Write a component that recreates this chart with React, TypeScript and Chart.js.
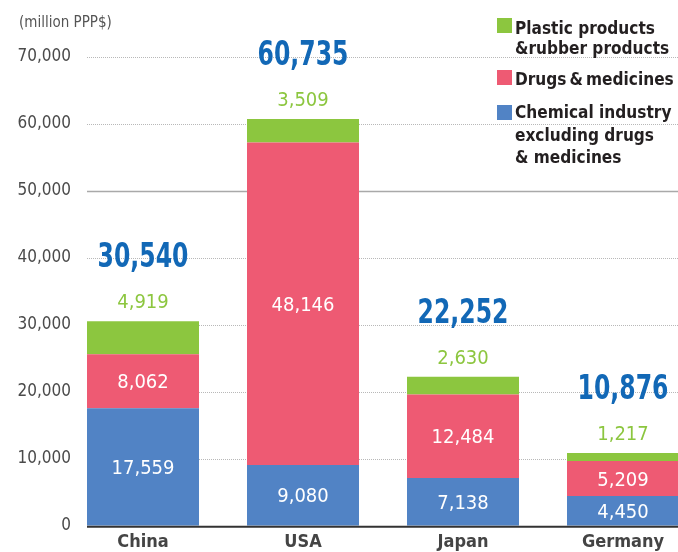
import React, { useEffect, useRef } from "react";
import { Chart, registerables } from "chart.js";

Chart.register(...registerables);

const categories = ["China", "USA", "Japan", "Germany"];
const chemical = [17559, 9080, 7138, 4450];
const drugs = [8062, 48146, 12484, 5209];
const plastic = [4919, 3509, 2630, 1217];
const yTickValues = [0, 10000, 20000, 30000, 40000, 50000, 60000, 70000];
const unitLabel = "(million PPP$)";
const seriesNames = [
  ["Plastic products", "&rubber products"],
  ["Drugs\u2009&\u2009medicines"],
  ["Chemical industry", "excluding drugs", "& medicines"],
];

const BLUE = "#5183c5";
const PINK = "#ee5a73";
const GREEN = "#8cc63f";
const TOTAL_BLUE = "#1268b6";
const FONT = "'DejaVu Sans Condensed', 'DejaVu Sans', sans-serif";

const fmt = (v: number) => v.toLocaleString("en-US");
const toPoints = (arr: number[]) => arr.map((v, i) => ({ x: i, y: v }));

const decor = {
  id: "decor",
  beforeDatasetsDraw(chart: any) {
    const { ctx, scales } = chart;
    const y = scales.y;
    const left = chart.chartArea.left;
    ctx.save();
    yTickValues.forEach((v) => {
      if (v === 0) return;
      const py = Math.round(y.getPixelForValue(v)) + 0.5;
      ctx.beginPath();
      if (v === 50000) {
        ctx.setLineDash([]);
        ctx.strokeStyle = "#a9a9a9";
        ctx.lineWidth = 1.5;
      } else {
        ctx.setLineDash([1, 1]);
        ctx.strokeStyle = "#b8b8b8";
        ctx.lineWidth = 1;
      }
      ctx.moveTo(left, py);
      ctx.lineTo(chart.width, py);
      ctx.stroke();
    });
    ctx.restore();
  },
  afterDatasetsDraw(chart: any) {
    const { ctx, scales } = chart;
    const y = scales.y;
    const left = chart.chartArea.left;
    ctx.save();
    // baseline
    const y0 = y.getPixelForValue(0);
    ctx.beginPath();
    ctx.setLineDash([]);
    ctx.strokeStyle = "#333333";
    ctx.lineWidth = 2;
    ctx.moveTo(left, y0 + 1);
    ctx.lineTo(chart.width, y0 + 1);
    ctx.stroke();

    // inside labels
    ctx.textAlign = "center";
    ctx.textBaseline = "alphabetic";
    ctx.font = `20px ${FONT}`;
    ctx.fillStyle = "#ffffff";
    const series = [chemical, drugs];
    [0, 1].forEach((di) => {
      chart.getDatasetMeta(di).data.forEach((bar: any, i: number) => {
        const mid = (bar.y + bar.base) / 2;
        ctx.fillText(fmt(series[di][i]), bar.x, mid + 7);
      });
    });
    // green labels above
    ctx.fillStyle = GREEN;
    chart.getDatasetMeta(2).data.forEach((bar: any, i: number) => {
      ctx.fillText(fmt(plastic[i]), bar.x, bar.y - 13);
    });
    // totals
    ctx.fillStyle = TOTAL_BLUE;
    ctx.font = `bold 34px ${FONT}`;
    chart.getDatasetMeta(2).data.forEach((bar: any, i: number) => {
      const total = chemical[i] + drugs[i] + plastic[i];
      ctx.save();
      ctx.translate(bar.x, bar.y - 54);
      ctx.scale(0.77, 1);
      ctx.fillText(fmt(total), 0, 0);
      ctx.restore();
    });

    // unit label
    ctx.textAlign = "left";
    ctx.fillStyle = "#555555";
    ctx.font = `15px ${FONT}`;
    ctx.fillText(unitLabel, 19, 27);

    // legend
    const colors = [GREEN, PINK, BLUE];
    const squareTops = [18, 70, 105];
    const baselines = [[34, 54], [85], [118, 141, 163]];
    ctx.font = `bold 18px ${FONT}`;
    seriesNames.forEach((lines, k) => {
      ctx.fillStyle = colors[k];
      ctx.fillRect(497, squareTops[k], 15, 15);
      ctx.fillStyle = "#231f20";
      lines.forEach((ln, j) => {
        ctx.save();
        ctx.translate(515, baselines[k][j]);
        ctx.scale(0.95, 1);
        ctx.fillText(ln, 0, 0);
        ctx.restore();
      });
    });
    ctx.restore();
  },
};

export default function App() {
  const ref = useRef<HTMLCanvasElement | null>(null);
  useEffect(() => {
    if (!ref.current) return;
    Chart.defaults.font.family = FONT;
    const chart = new Chart(ref.current, {
      type: "bar",
      data: {
        datasets: [
          { label: seriesNames[2].join(" "), data: toPoints(chemical), backgroundColor: BLUE },
          { label: seriesNames[1].join(" "), data: toPoints(drugs), backgroundColor: PINK },
          { label: seriesNames[0].join(" "), data: toPoints(plastic), backgroundColor: GREEN },
        ],
      },
      options: {
        responsive: false,
        animation: false,
        layout: { padding: { top: 57, left: 0, right: 0, bottom: 0 } },
        datasets: { bar: { barPercentage: 0.7, categoryPercentage: 1 } },
        plugins: { legend: { display: false }, tooltip: { enabled: false } },
        scales: {
          x: {
            type: "linear",
            stacked: true,
            min: -0.35,
            max: 3.5,
            offset: false,
            grid: { display: false, drawTicks: false },
            border: { display: false },
            afterBuildTicks: (s: any) => {
              s.ticks = categories.map((_, i) => ({ value: i }));
            },
            ticks: {
              color: "#444444",
              font: { family: FONT, size: 18, weight: "bold" },
              padding: 6,
              autoSkip: false,
              maxRotation: 0,
              callback: (v: any) => categories[Number(v)] ?? "",
            },
            afterFit: (s: any) => {
              s.height = 26;
            },
          },
          y: {
            stacked: true,
            min: 0,
            max: 70000,
            grid: { display: false, drawTicks: false },
            border: { display: false },
            afterBuildTicks: (s: any) => {
              s.ticks = yTickValues.map((v) => ({ value: v }));
            },
            ticks: {
              color: "#4a4a4a",
              font: { family: FONT, size: 17 },
              padding: 16,
              callback: (v: any) => fmt(Number(v)),
            },
            afterFit: (s: any) => {
              s.width = 87;
            },
          },
        },
      },
      plugins: [decor],
    });
    return () => chart.destroy();
  }, []);
  return (
    <div
      style={{
        position: "fixed",
        left: 0,
        top: 0,
        width: 678,
        height: 552,
        overflow: "hidden",
        background: "#ffffff",
      }}
    >
      <canvas ref={ref} width={703} height={552} style={{ width: 703, height: 552, display: "block" }} />
    </div>
  );
}
